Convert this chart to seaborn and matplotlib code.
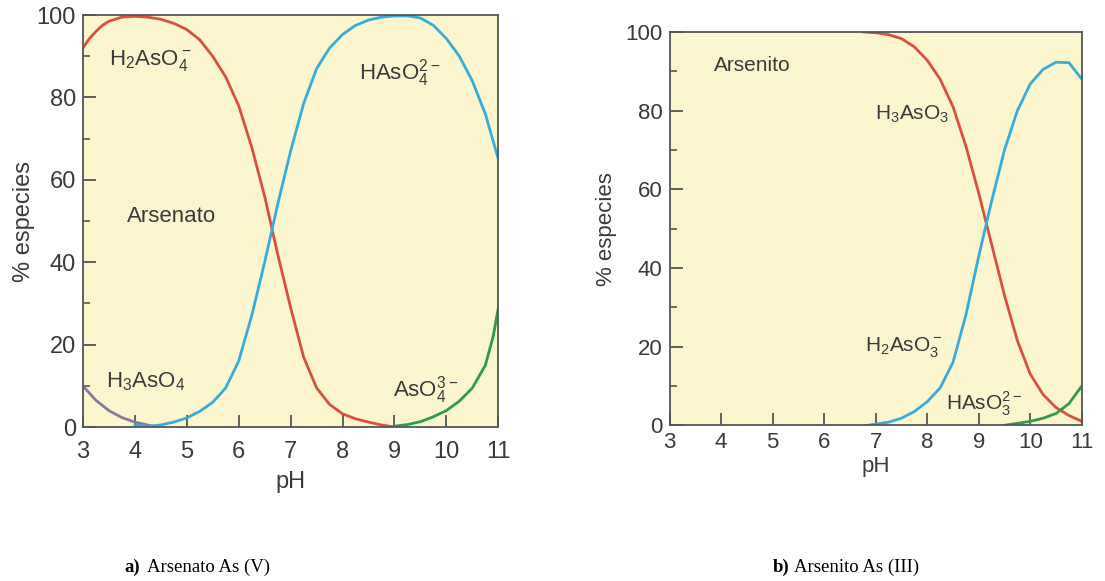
import matplotlib
matplotlib.use('Agg')
import matplotlib.pyplot as plt
import seaborn as sns
import pandas as pd

# --- data ---
# a) arsenate
ph_h3aso4 = [3.0, 3.25, 3.5, 3.75, 4.0, 4.25, 4.4]
h3aso4 = [10, 6.5, 4, 2.3, 1.2, 0.5, 0]

ph_h2aso4 = [3.0, 3.125, 3.25, 3.375, 3.5, 3.75, 4.0, 4.25, 4.5, 4.75, 5.0, 5.25, 5.5,
             5.75, 6.0, 6.25, 6.5, 6.75, 7.0, 7.25, 7.5, 7.75, 8.0, 8.25, 8.5, 8.75, 9.0]
h2aso4 = [92, 94.3, 96, 97.5, 98.5, 99.5, 99.7, 99.5, 99, 98, 96.5, 94, 90,
          85, 78, 68, 56, 42, 29, 17, 9.5, 5.5, 3.2, 2, 1.2, 0.5, 0]

ph_haso4 = [4.0, 4.25, 4.5, 4.75, 5.0, 5.25, 5.5, 5.75, 6.0, 6.25, 6.5, 6.75, 7.0,
            7.25, 7.5, 7.75, 8.0, 8.25, 8.5, 8.75, 9.0, 9.25, 9.5, 9.75, 10.0,
            10.25, 10.5, 10.75, 11.0]
haso4 = [0.5, 0.2, 0.5, 1.2, 2.2, 3.8, 6, 9.5, 16, 27, 40, 54, 67,
         78.5, 87, 92, 95.3, 97.5, 98.8, 99.5, 99.8, 99.8, 99.3, 97.5, 94.3,
         90, 84, 76, 65]

ph_aso4 = [9.0, 9.25, 9.5, 9.75, 10.0, 10.25, 10.5, 10.75, 10.9, 11.0]
aso4 = [0.2, 0.6, 1.3, 2.5, 4, 6.3, 9.5, 15, 22, 29]

# b) arsenite
ph_h3aso3 = [6.75, 7.0, 7.25, 7.5, 7.75, 8.0, 8.25, 8.5, 8.75, 9.0, 9.25, 9.5,
             9.75, 10.0, 10.25, 10.5, 10.75, 11.0]
h3aso3 = [100, 99.8, 99.3, 98.3, 96.2, 92.8, 88, 81, 71, 59, 46, 33,
          21.5, 13, 7.8, 4.5, 2.5, 1]

ph_h2aso3 = [6.85, 7.0, 7.25, 7.5, 7.75, 8.0, 8.25, 8.5, 8.75, 9.0, 9.25, 9.5,
             9.75, 10.0, 10.25, 10.5, 10.75, 11.0]
h2aso3 = [0, 0.3, 0.8, 1.8, 3.5, 6, 9.5, 16, 28, 43, 57, 70,
          80, 86.8, 90.5, 92.3, 92.2, 88]

ph_haso3 = [9.5, 9.75, 10.0, 10.25, 10.5, 10.75, 11.0]
haso3 = [0, 0.5, 1, 1.8, 3, 5.5, 10]

RED = '#d9503f'
BLUE = '#38acd9'
GREEN = '#2f9a4c'
PURPLE = '#857a9c'
BG = '#fcf6cf'
TXT = '#3a3a3a'

sns.set_style('ticks')
plt.rcParams['font.family'] = ['Liberation Sans', 'DejaVu Sans']
plt.rcParams['mathtext.fontset'] = 'custom'
plt.rcParams['mathtext.rm'] = 'Liberation Sans'

fig = plt.figure(figsize=(11.05, 5.81), dpi=100)
ax1 = fig.add_axes([0.075, 0.265, 0.376, 0.709])
ax2 = fig.add_axes([0.606, 0.268, 0.373, 0.677])


def draw(ax, x, y, color):
    df = pd.DataFrame({'pH': x, 'pct': y})
    sns.lineplot(data=df, x='pH', y='pct', color=color, linewidth=2.0, ax=ax)


draw(ax1, ph_h3aso4, h3aso4, PURPLE)
draw(ax1, ph_h2aso4, h2aso4, RED)
draw(ax1, ph_haso4, haso4, BLUE)
draw(ax1, ph_aso4, aso4, GREEN)

draw(ax2, ph_h3aso3, h3aso3, RED)
draw(ax2, ph_h2aso3, h2aso3, BLUE)
draw(ax2, ph_haso3, haso3, GREEN)

# (axes, font size, x tick pad, x label pad, y label pad)
for ax, fs, xpad, xlp, ylp in [(ax1, 17, 10, 6, 1), (ax2, 16, 5, 2, 6)]:
    ax.set_facecolor(BG)
    ax.set_xlim(3, 11)
    ax.set_ylim(0, 100)
    ax.set_xticks(range(3, 12))
    ax.set_yticks(range(0, 101, 20))
    ax.set_yticks(range(10, 100, 20), minor=True)
    ax.tick_params(axis='both', direction='in', length=9, width=1.3,
                   color='#555555', labelcolor=TXT, labelsize=fs, pad=5)
    ax.tick_params(axis='x', pad=xpad)
    ax.tick_params(axis='y', which='minor', direction='in', length=5,
                   width=1.2, color='#555555')
    for s in ax.spines.values():
        s.set_color('#555555')
        s.set_linewidth(1.3)
    ax.set_xlabel('pH', fontsize=fs, color=TXT, labelpad=xlp)
    ax.set_ylabel('% especies', fontsize=fs, color=TXT, labelpad=ylp)

lab = dict(color=TXT, ha='center', va='center')
ax1.text(4.3, 89, r'H$_2$AsO$_4^-$', fontsize=16, **lab)
ax1.text(9.1, 86, r'HAsO$_4^{2-}$', fontsize=16, **lab)
ax1.text(4.7, 51, 'Arsenato', fontsize=16, **lab)
ax1.text(4.2, 11, r'H$_3$AsO$_4$', fontsize=16, **lab)
ax1.text(9.6, 9, r'AsO$_4^{3-}$', fontsize=16, **lab)

ax2.text(4.6, 91.5, 'Arsenito', fontsize=15, **lab)
ax2.text(7.7, 79, r'H$_3$AsO$_3$', fontsize=15, **lab)
ax2.text(7.55, 20, r'H$_2$AsO$_3^-$', fontsize=15, **lab)
ax2.text(9.1, 5.5, r'HAsO$_3^{2-}$', fontsize=15, **lab)

# captions under the panels
cap = dict(fontsize=13.5, color='black', va='center', family='Liberation Serif')
fig.text(0.113, 0.024, 'a)', fontweight='bold', **cap)
fig.text(0.133, 0.024, 'Arsenato As (V)', **cap)
fig.text(0.699, 0.024, 'b)', fontweight='bold', **cap)
fig.text(0.719, 0.024, 'Arsenito As (III)', **cap)

fig.savefig('out.png', dpi=100)
